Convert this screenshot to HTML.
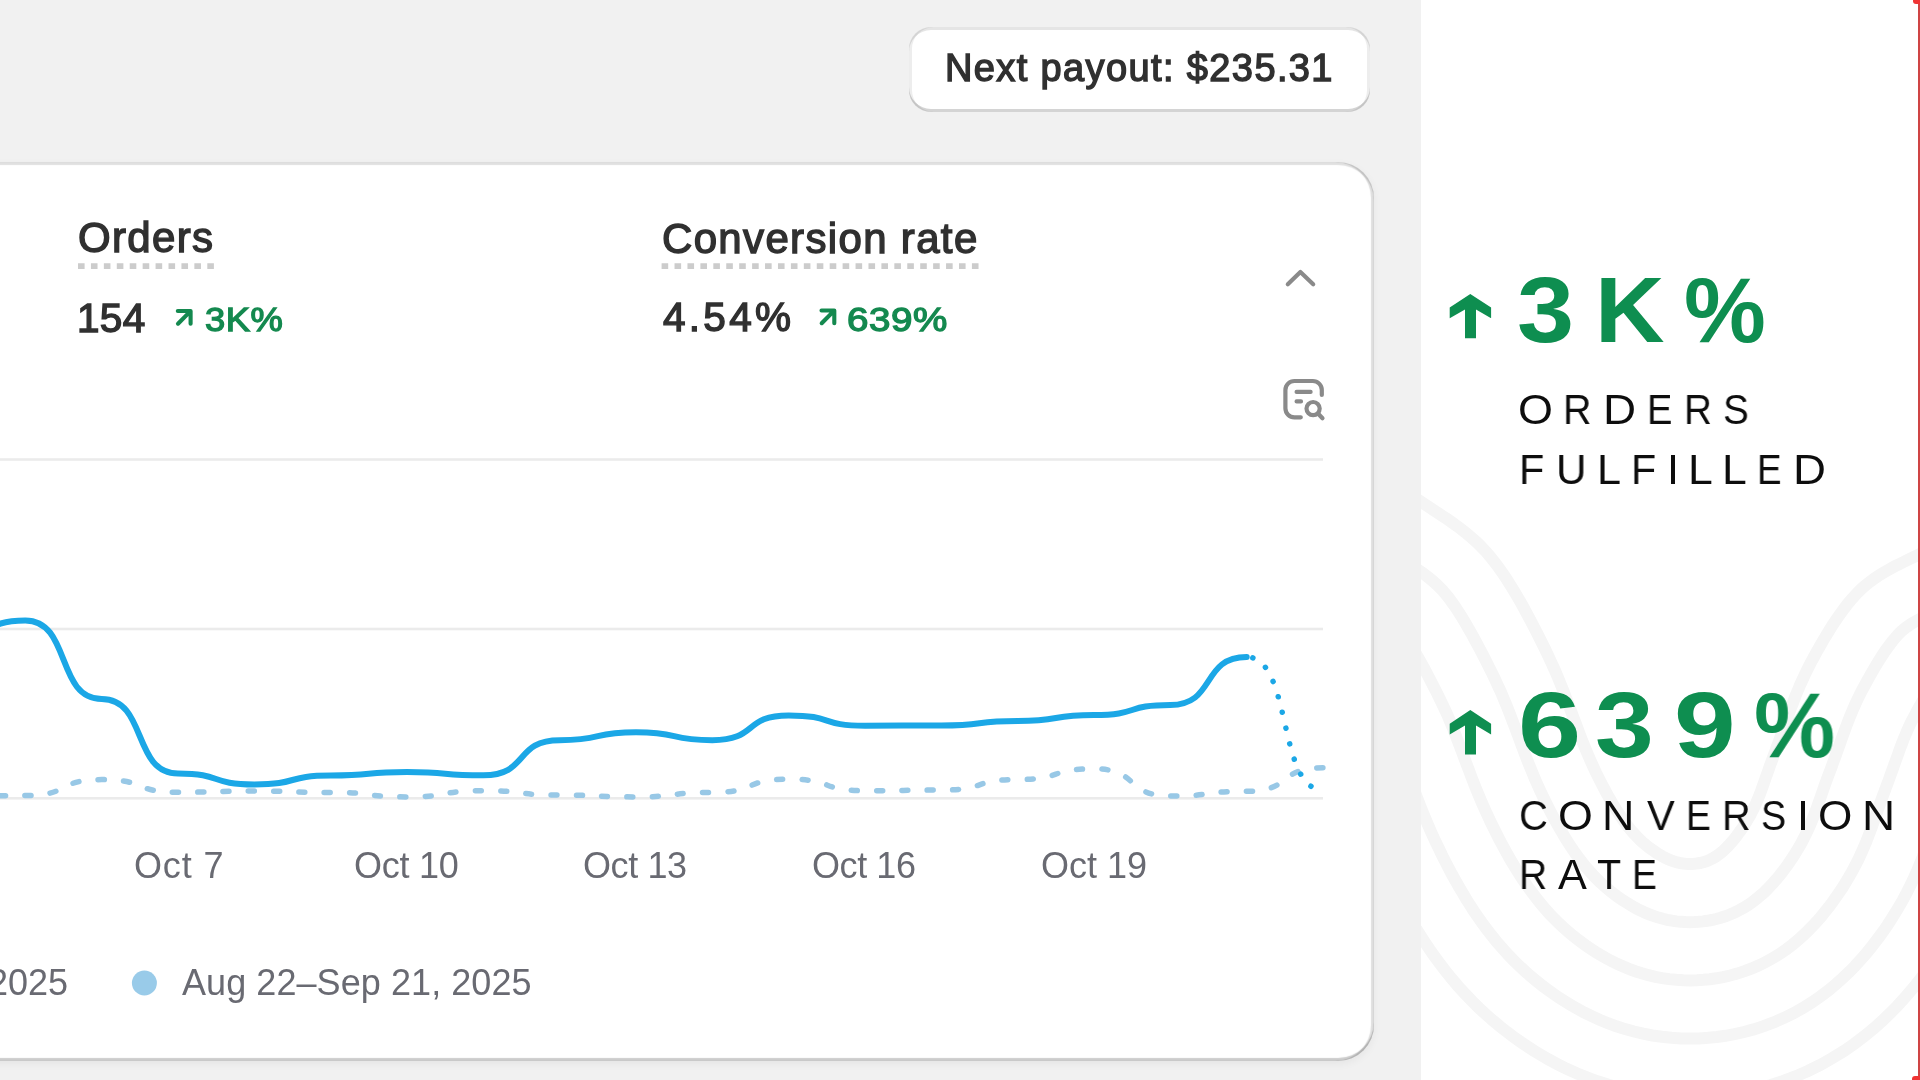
<!DOCTYPE html>
<html>
<head>
<meta charset="utf-8">
<style>
html,body{margin:0;padding:0;}
body{width:1920px;height:1080px;overflow:hidden;position:relative;background:#f1f1f1;font-family:"Liberation Sans",sans-serif;}
.abs{position:absolute;white-space:pre;line-height:1;will-change:transform;}
#left{position:absolute;left:0;top:0;width:1421px;height:1080px;background:#f1f1f1;overflow:hidden;}
#pill{position:absolute;left:909px;top:27px;width:461px;height:85px;box-sizing:border-box;background:#fff;border-radius:22px;
  box-shadow:inset 0 -3px 0 rgba(0,0,0,.17), inset 3px 0 0 rgba(0,0,0,.07), inset -3px 0 0 rgba(0,0,0,.07), inset 0 3px 0 rgba(204,204,204,.5);}
#card{position:absolute;left:-100px;top:161.5px;width:1473.5px;height:899.5px;box-sizing:border-box;background:#fff;border-radius:36px;
  box-shadow:0 3px 8px rgba(0,0,0,.05), inset 0 -3px 1px rgba(0,0,0,.2), inset -3px 0 1px rgba(0,0,0,.13), inset 0 3px 1px rgba(204,204,204,.6);}
.dark{color:#303030;}
.semi{font-weight:400 !important;-webkit-text-stroke:1.4px currentColor;}
.gray{color:#696a72;}
.green{color:#14894f;}
#right{position:absolute;left:1421px;top:0;width:499px;height:1080px;background:#fff;overflow:hidden;}
.big{will-change:transform;position:absolute;white-space:pre;line-height:1;font-weight:700;color:#0e8e50;font-size:92px;}
.lab{will-change:transform;position:absolute;white-space:pre;line-height:1;font-weight:400;color:#0d0d0d;font-size:43px;transform-origin:0 0;}
</style>
</head>
<body>
<div id="left">
  <div id="pill"></div>
  <div id="card"></div>
  <div class="abs dark" style="left:944.7px;top:49.0px;font-size:38px;letter-spacing:1.38px;-webkit-text-stroke:1.4px currentColor;">Next payout: $235.31</div>
  <div class="abs dark" style="left:78.2px;top:217.4px;font-size:42px;letter-spacing:1.32px;-webkit-text-stroke:1.4px currentColor;">Orders</div>
  <div class="abs dark" style="left:661.9px;top:217.9px;font-size:42px;letter-spacing:1.34px;-webkit-text-stroke:1.4px currentColor;">Conversion rate</div>
  <div class="abs dark" style="left:77.4px;top:297.7px;font-size:40.5px;letter-spacing:0.3px;-webkit-text-stroke:1.4px currentColor;">154</div>
  <div class="abs dark" style="left:662.9px;top:297.2px;font-size:40.5px;letter-spacing:3.28px;-webkit-text-stroke:1.4px currentColor;">4.54%</div>
  <div class="abs green" style="left:204.7px;top:303.4px;font-size:33.5px;letter-spacing:0.5px;-webkit-text-stroke:1.3px currentColor;transform:scaleX(1.085);transform-origin:0 0;">3K%</div>
  <div class="abs green" style="left:847.2px;top:302.5px;font-size:33.5px;letter-spacing:0.5px;-webkit-text-stroke:1.3px currentColor;transform:scaleX(1.15);transform-origin:0 0;">639%</div>
  <div class="abs gray" style="left:133.9px;top:848.0px;font-size:36px;letter-spacing:0.85px;">Oct 7</div>
  <div class="abs gray" style="left:353.9px;top:848.0px;font-size:36px;letter-spacing:-0.28px;">Oct 10</div>
  <div class="abs gray" style="left:583.0px;top:848.0px;font-size:36px;letter-spacing:-0.4px;">Oct 13</div>
  <div class="abs gray" style="left:812.4px;top:848.0px;font-size:36px;letter-spacing:-0.42px;">Oct 16</div>
  <div class="abs gray" style="left:1040.5px;top:848.0px;font-size:36px;letter-spacing:-0.02px;">Oct 19</div>
  <div class="abs gray" style="left:-12.4px;top:965.4px;font-size:36px;letter-spacing:0px;">2025</div>
  <div class="abs gray" style="left:182.3px;top:965.4px;font-size:36px;letter-spacing:0.07px;">Aug 22–Sep 21, 2025</div>
  <svg id="chart" width="1421" height="1080" style="position:absolute;left:0;top:0">
    <!-- CHART -->
    <rect x="0" y="458.2" width="1323" height="2.6" fill="#ebebeb"/>
    <rect x="0" y="627.7" width="1323" height="2.6" fill="#ebebeb"/>
    <rect x="0" y="797.0" width="1323" height="2.6" fill="#ebebeb"/>
    <path d="M-51.0 796.0 C-5.2 796.0 -20.5 795.6 25.3 795.6 C71.1 795.6 55.9 779.6 101.7 779.6 C147.5 779.6 132.2 792.2 178.0 792.2 C223.8 792.2 208.5 791.1 254.3 791.1 C300.1 791.1 284.9 792.4 330.7 792.4 C376.5 792.4 361.2 796.9 407.0 796.9 C452.8 796.9 437.5 790.7 483.3 790.7 C529.1 790.7 513.9 795.1 559.7 795.1 C605.5 795.1 590.2 796.9 636.0 796.9 C681.8 796.9 666.5 792.4 712.3 792.4 C758.1 792.4 742.9 779.2 788.7 779.2 C834.5 779.2 819.2 790.7 865.0 790.7 C910.8 790.7 895.5 790.1 941.3 790.1 C987.1 790.1 971.9 779.5 1017.7 779.5 C1063.5 779.5 1048.2 768.8 1094.0 768.8 C1139.8 768.8 1124.5 796.0 1170.3 796.0 C1216.1 796.0 1200.9 791.3 1246.7 791.3 C1292.5 791.3 1277.2 767.8 1323.0 767.8" fill="none" stroke="#98c8e6" stroke-width="5.5" stroke-linecap="round" stroke-dasharray="6 19.3"/>
    <path d="M-51.0 641.0 C-5.2 641.0 -20.5 620.4 25.3 620.4 C71.1 620.4 55.9 699.0 101.7 699.0 C147.5 699.0 132.2 773.5 178.0 773.5 C223.8 773.5 208.5 784.4 254.3 784.4 C300.1 784.4 284.9 775.6 330.7 775.6 C376.5 775.6 361.2 772.1 407.0 772.1 C452.8 772.1 437.5 775.3 483.3 775.3 C529.1 775.3 513.9 740.2 559.7 740.2 C605.5 740.2 590.2 732.2 636.0 732.2 C681.8 732.2 666.5 740.2 712.3 740.2 C758.1 740.2 742.9 715.4 788.7 715.4 C834.5 715.4 819.2 725.7 865.0 725.7 C910.8 725.7 895.5 725.5 941.3 725.5 C987.1 725.5 971.9 721.0 1017.7 721.0 C1063.5 721.0 1048.2 715.0 1094.0 715.0 C1139.8 715.0 1124.5 705.0 1170.3 705.0 C1216.1 705.0 1200.9 657.0 1246.7 657.0" fill="none" stroke="#1ba7e6" stroke-width="6" stroke-linecap="round"/>
    <path d="M1246.7 657.0 C1292.5 657.0 1277.2 790.0 1323.0 790.0" fill="none" stroke="#1ba7e6" stroke-width="5.5" stroke-linecap="round" stroke-dasharray="0.1 16" stroke-dashoffset="10"/>
    <circle cx="144.4" cy="983" r="12.5" fill="#99cbe9"/>
    <path d="M1287.8 284.3 L1300.4 272 L1313.2 284.3" fill="none" stroke="#8a8a8a" stroke-width="4.2" stroke-linecap="round" stroke-linejoin="round"/>
    <path d="M1300.8 417.3 L1294.4 417.3 A9 9 0 0 1 1285.4 408.3 L1285.4 390 A9 9 0 0 1 1294.4 381 L1312.8 381 A9 9 0 0 1 1321.8 390 L1321.8 395" fill="none" stroke="#8a8a8a" stroke-width="4.2" stroke-linecap="round"/>
    <path d="M1296.6 391.9 L1310.6 391.9 M1296.6 401.4 L1301 401.4" fill="none" stroke="#8a8a8a" stroke-width="4.2" stroke-linecap="round"/>
    <circle cx="1313.1" cy="408.6" r="6.6" fill="none" stroke="#8a8a8a" stroke-width="4.2"/>
    <path d="M1318.2 413.7 L1322.5 418.3" fill="none" stroke="#8a8a8a" stroke-width="4.2" stroke-linecap="round"/>
    <path d="M177.8 311 L190.6 311 L190.6 323.7 M190 311.6 L178 323.7" fill="none" stroke="#14894f" stroke-width="4.1" stroke-linecap="round" stroke-linejoin="round"/>
    <path d="M821.5 310.5 L834.3 310.5 L834.3 323.2 M833.7 311.1 L821.7 323.2" fill="none" stroke="#14894f" stroke-width="4.1" stroke-linecap="round" stroke-linejoin="round"/>
    <line x1="78" y1="266.1" x2="214.5" y2="266.1" stroke="#cccccc" stroke-width="5.8" stroke-dasharray="6.6 6.33"/>
    <line x1="661.6" y1="266.1" x2="979" y2="266.1" stroke="#cccccc" stroke-width="5.8" stroke-dasharray="6.6 6.33"/>
    <!-- /CHART -->
  </svg>
</div>
<div id="right">
  <svg id="curves" width="499" height="1080" style="position:absolute;left:0;top:0">
    <!-- CURVES -->
    <path d="M-49.9 472.6 L-48.6 473.3 L-46.7 474.3 L-44.3 475.6 L-41.6 477.1 L-38.6 478.7 L-35.4 480.4 L-32.0 482.2 L-28.4 484.2 L-24.7 486.2 L-20.9 488.4 L-17.0 490.7 L-13.1 493.2 L-9.0 495.7 L-5.0 498.3 L-0.9 501.1 L3.3 503.9 L7.6 506.7 L12.0 509.7 L16.6 512.7 L21.4 515.9 L26.2 519.1 L31.1 522.5 L36.0 526.0 L40.9 529.7 L45.8 533.6 L50.6 537.7 L55.4 542.0 L60.0 546.5 L64.5 551.2 L68.9 556.3 L73.2 561.6 L77.4 567.2 L81.6 573.1 L85.7 579.2 L89.7 585.6 L93.7 592.2 L97.7 598.9 L101.6 605.8 L105.4 612.8 L109.2 619.8 L112.9 626.9 L116.5 634.0 L120.0 641.0 L123.5 648.0 L126.9 655.1 L130.2 662.2 L133.5 669.4 L136.6 676.7 L139.7 684.2 L142.7 691.8 L145.6 699.4 L148.5 707.0 L151.3 714.5 L154.1 721.9 L156.8 729.2 L159.5 736.3 L162.1 743.1 L164.8 749.6 L167.4 755.8 L170.0 761.7 L172.5 767.3 L175.0 772.6 L177.5 777.6 L179.9 782.4 L182.3 787.0 L184.6 791.4 L186.9 795.6 L189.2 799.6 L191.4 803.5 L193.7 807.2 L195.9 810.8 L198.2 814.2 L200.5 817.5 L202.7 820.8 L205.0 823.9 L207.3 826.9 L209.6 829.7 L211.9 832.4 L214.2 834.9 L216.5 837.3 L218.8 839.6 L221.0 841.7 L223.3 843.7 L225.6 845.6 L227.8 847.4 L230.1 849.0 L232.3 850.6 L234.6 852.1 L236.8 853.6 L239.0 854.9 L241.2 856.2 L243.4 857.4 L245.6 858.5 L247.7 859.4 L249.9 860.3 L252.0 861.1 L254.2 861.8 L256.3 862.4 L258.4 862.9 L260.5 863.3 L262.7 863.6 L264.8 863.8 L266.8 863.9 L268.9 864.0 L271.0 863.9 L273.0 863.8 L275.1 863.6 L277.1 863.3 L279.1 863.0 L281.1 862.5 L283.1 862.0 L285.1 861.3 L287.1 860.6 L289.1 859.7 L291.1 858.7 L293.1 857.6 L295.0 856.4 L297.0 855.0 L299.0 853.5 L301.0 851.9 L303.0 850.1 L305.1 848.1 L307.1 846.0 L309.2 843.8 L311.3 841.4 L313.3 838.9 L315.4 836.3 L317.4 833.5 L319.5 830.7 L321.5 827.8 L323.5 824.8 L325.4 821.7 L327.3 818.5 L329.2 815.3 L330.9 811.9 L332.6 808.6 L334.3 805.1 L335.8 801.6 L337.3 798.0 L338.8 794.3 L340.2 790.5 L341.6 786.6 L343.0 782.7 L344.4 778.6 L345.9 774.4 L347.4 770.2 L348.9 765.8 L350.6 761.3 L352.3 756.6 L354.1 751.9 L355.9 746.9 L357.8 741.8 L359.7 736.5 L361.7 731.0 L363.7 725.4 L365.7 719.7 L367.8 713.9 L369.9 708.0 L372.2 702.2 L374.4 696.3 L376.8 690.5 L379.2 684.7 L381.8 679.1 L384.4 673.5 L387.1 668.0 L389.9 662.6 L392.8 657.1 L395.8 651.7 L398.9 646.2 L402.0 640.7 L405.3 635.3 L408.6 629.9 L411.9 624.6 L415.4 619.4 L418.9 614.4 L422.4 609.5 L426.0 604.8 L429.6 600.4 L433.3 596.2 L437.1 592.2 L440.9 588.5 L444.8 585.1 L448.8 581.9 L452.9 578.9 L457.1 576.0 L461.3 573.4 L465.6 570.9 L469.8 568.5 L474.1 566.2 L478.4 564.1 L482.6 562.0 L486.8 559.9 L490.9 557.9 L495.0 556.0 L499.0 554.0 L503.1 552.1 L507.2 550.2 L511.4 548.4 L515.6 546.7 L519.9 545.0 L524.1 543.4 L528.2 541.9 L532.3 540.5 L536.1 539.1 L539.8 537.9 L543.2 536.7 L546.4 535.7 L549.2 534.7 L551.3 534.0 L552.8 533.4" fill="none" stroke="#f5f5f5" stroke-width="12"/>
    <path d="M-77.9 523.6 L-76.4 524.5 L-74.3 525.6 L-71.6 527.0 L-68.8 528.5 L-65.9 530.0 L-62.9 531.6 L-59.8 533.3 L-56.7 535.0 L-53.5 536.8 L-50.2 538.7 L-47.0 540.6 L-43.8 542.6 L-40.6 544.6 L-37.1 546.9 L-33.3 549.4 L-29.1 552.2 L-24.7 555.2 L-20.0 558.3 L-15.4 561.3 L-11.0 564.3 L-6.7 567.2 L-2.5 570.1 L1.5 572.9 L5.3 575.8 L9.0 578.7 L12.4 581.6 L15.6 584.5 L18.6 587.4 L21.5 590.4 L24.3 593.7 L27.3 597.3 L30.3 601.4 L33.6 606.0 L36.9 611.0 L40.3 616.3 L43.8 622.0 L47.2 628.0 L50.7 634.1 L54.2 640.5 L57.7 647.0 L61.2 653.6 L64.6 660.3 L68.0 667.1 L71.3 673.6 L74.4 680.1 L77.3 686.4 L80.2 692.7 L82.9 699.2 L85.7 705.9 L88.5 712.9 L91.2 720.1 L94.0 727.4 L96.8 734.8 L99.5 742.3 L102.3 749.7 L105.1 757.2 L108.0 764.5 L111.0 771.8 L113.9 778.9 L116.9 785.6 L119.8 791.9 L122.6 797.9 L125.3 803.4 L128.0 808.8 L130.7 814.0 L133.4 819.0 L136.1 823.9 L138.7 828.6 L141.5 833.3 L144.2 837.8 L146.9 842.1 L149.7 846.4 L152.5 850.6 L155.4 854.7 L158.4 858.8 L161.6 862.9 L164.8 866.9 L168.2 870.8 L171.6 874.6 L175.1 878.2 L178.5 881.6 L182.0 884.9 L185.5 887.9 L189.0 890.8 L192.4 893.5 L195.8 896.1 L199.2 898.5 L202.5 900.7 L205.8 902.8 L209.2 904.9 L212.8 907.0 L216.6 909.1 L220.6 911.0 L224.7 912.9 L228.9 914.6 L233.1 916.2 L237.5 917.6 L241.9 918.8 L246.3 919.8 L250.9 920.7 L255.4 921.4 L260.0 921.8 L264.6 922.1 L269.1 922.2 L273.4 922.1 L277.7 921.8 L282.0 921.4 L286.2 920.8 L290.6 920.0 L295.1 919.0 L299.7 917.8 L304.3 916.3 L308.9 914.5 L313.6 912.5 L318.1 910.3 L322.6 907.8 L326.9 905.1 L331.2 902.2 L335.2 899.1 L339.0 895.9 L342.7 892.7 L346.1 889.4 L349.4 886.0 L352.5 882.6 L355.6 879.1 L358.6 875.5 L361.5 871.8 L364.3 868.0 L367.1 864.2 L369.8 860.2 L372.5 856.2 L375.0 852.1 L377.6 847.8 L380.1 843.5 L382.5 838.9 L384.9 834.2 L387.2 829.3 L389.3 824.5 L391.3 819.8 L393.1 815.2 L394.8 810.7 L396.4 806.3 L397.9 801.9 L399.4 797.7 L400.9 793.5 L402.3 789.4 L403.7 785.3 L405.2 781.2 L406.8 776.9 L408.6 772.2 L410.5 767.2 L412.4 761.8 L414.5 756.2 L416.5 750.5 L418.5 744.9 L420.5 739.3 L422.5 733.8 L424.5 728.3 L426.5 723.0 L428.5 717.8 L430.6 712.7 L432.6 707.9 L434.7 703.3 L436.8 698.8 L439.0 694.3 L441.4 689.6 L444.0 684.8 L446.7 679.9 L449.5 674.9 L452.3 670.1 L455.1 665.3 L457.9 660.7 L460.7 656.3 L463.5 652.0 L466.3 648.1 L469.0 644.4 L471.6 641.0 L474.1 638.0 L476.3 635.4 L478.4 633.2 L480.3 631.3 L482.3 629.6 L484.3 628.0 L486.5 626.4 L488.9 624.8 L491.5 623.1 L494.4 621.4 L497.5 619.7 L500.9 617.9 L504.4 616.1 L508.2 614.2 L512.2 612.3 L516.3 610.3 L520.4 608.3 L524.1 606.5 L527.6 604.9 L530.8 603.4 L533.9 602.1 L537.3 600.7 L540.7 599.3 L544.3 598.0 L547.9 596.7 L551.5 595.4 L555.1 594.2 L558.5 593.0 L561.9 591.9 L565.1 590.8 L568.2 589.7 L570.5 588.9 L572.2 588.3" fill="none" stroke="#f5f5f5" stroke-width="12"/>
    <path d="M-105.9 574.7 L-104.2 575.6 L-101.9 576.8 L-99.0 578.4 L-96.1 579.9 L-93.2 581.4 L-90.5 582.9 L-87.7 584.4 L-84.9 585.9 L-82.2 587.5 L-79.5 589.0 L-77.0 590.5 L-74.5 592.0 L-72.1 593.6 L-69.2 595.4 L-65.7 597.8 L-61.6 600.5 L-56.9 603.7 L-52.0 606.9 L-47.5 609.9 L-43.3 612.6 L-39.5 615.2 L-36.0 617.6 L-33.0 619.8 L-30.2 621.9 L-27.8 623.8 L-25.8 625.5 L-24.1 627.0 L-22.8 628.3 L-21.6 629.6 L-20.2 631.1 L-18.7 633.0 L-16.8 635.6 L-14.4 638.9 L-11.9 642.7 L-9.1 647.1 L-6.2 651.8 L-3.2 657.0 L-0.1 662.5 L3.1 668.2 L6.3 674.2 L9.5 680.4 L12.7 686.7 L16.0 693.1 L19.0 699.3 L21.8 705.1 L24.4 710.6 L26.9 716.1 L29.2 721.6 L31.7 727.6 L34.2 734.1 L36.8 740.8 L39.5 747.9 L42.2 755.1 L45.0 762.6 L47.9 770.2 L50.8 778.0 L53.9 785.9 L57.2 794.0 L60.5 801.9 L63.8 809.4 L67.1 816.6 L70.2 823.1 L73.2 829.2 L76.2 835.2 L79.1 841.0 L82.2 846.6 L85.2 852.2 L88.3 857.7 L91.5 863.1 L94.7 868.3 L97.9 873.5 L101.2 878.6 L104.6 883.6 L108.1 888.6 L111.9 893.7 L115.8 898.9 L120.1 904.1 L124.5 909.3 L129.0 914.3 L133.6 919.1 L138.3 923.7 L143.0 928.1 L147.7 932.2 L152.4 936.1 L157.0 939.7 L161.6 943.1 L166.0 946.3 L170.3 949.2 L174.8 952.1 L179.4 954.9 L184.4 957.8 L189.8 960.7 L195.6 963.6 L201.7 966.3 L207.9 968.9 L214.2 971.2 L220.8 973.3 L227.5 975.2 L234.3 976.8 L241.2 978.1 L248.2 979.1 L255.3 979.8 L262.3 980.3 L269.2 980.4 L275.9 980.2 L282.4 979.8 L288.8 979.2 L295.3 978.3 L302.1 977.1 L309.0 975.5 L316.2 973.6 L323.5 971.2 L330.8 968.5 L338.0 965.3 L345.2 961.8 L352.1 957.9 L358.9 953.8 L365.3 949.3 L371.4 944.7 L377.1 940.0 L382.3 935.3 L387.1 930.6 L391.6 926.0 L395.9 921.4 L400.0 916.8 L403.8 912.1 L407.6 907.3 L411.2 902.5 L414.7 897.6 L418.1 892.6 L421.5 887.6 L424.7 882.5 L427.8 877.2 L431.0 871.7 L434.1 865.8 L437.2 859.8 L440.1 853.6 L442.8 847.4 L445.3 841.6 L447.4 836.0 L449.4 830.8 L451.2 825.9 L452.9 821.2 L454.4 816.8 L455.8 812.6 L457.2 808.7 L458.6 804.9 L459.9 801.2 L461.4 797.2 L463.1 792.6 L465.0 787.4 L467.1 781.8 L469.2 775.9 L471.3 770.1 L473.3 764.4 L475.3 759.0 L477.2 753.7 L479.0 748.6 L480.9 743.8 L482.6 739.2 L484.4 735.0 L486.0 731.1 L487.6 727.6 L489.2 724.1 L491.0 720.5 L493.0 716.7 L495.2 712.5 L497.6 708.0 L500.1 703.7 L502.5 699.5 L504.9 695.4 L507.3 691.6 L509.6 688.0 L511.7 684.7 L513.8 681.8 L515.6 679.2 L517.2 677.1 L518.5 675.5 L519.4 674.6 L519.7 674.2 L519.8 674.1 L519.7 674.2 L519.7 674.2 L520.0 674.0 L520.7 673.5 L521.8 672.8 L523.3 671.9 L525.2 670.9 L527.6 669.6 L530.5 668.2 L533.8 666.5 L537.6 664.7 L541.8 662.7 L545.7 660.7 L549.2 659.1 L552.1 657.7 L554.4 656.6 L556.5 655.7 L558.9 654.7 L561.6 653.7 L564.6 652.6 L567.6 651.5 L570.8 650.3 L574.0 649.2 L577.3 648.1 L580.6 647.0 L583.9 645.9 L587.2 644.7 L589.7 643.8 L591.6 643.2" fill="none" stroke="#f5f5f5" stroke-width="12"/>
    <path d="M-133.8 625.7 L-131.9 626.8 L-129.5 628.1 L-126.3 629.8 L-123.3 631.4 L-120.6 632.8 L-118.0 634.2 L-115.5 635.5 L-113.2 636.8 L-110.9 638.1 L-108.9 639.3 L-106.9 640.4 L-105.2 641.5 L-103.6 642.5 L-101.3 644.0 L-98.1 646.1 L-94.0 648.9 L-89.1 652.1 L-84.1 655.5 L-79.5 658.5 L-75.7 661.0 L-72.3 663.3 L-69.6 665.2 L-67.4 666.7 L-65.8 668.0 L-64.6 668.9 L-64.0 669.4 L-63.9 669.5 L-64.1 669.2 L-64.6 668.8 L-64.8 668.5 L-64.6 668.8 L-63.8 669.8 L-62.4 671.8 L-60.6 674.5 L-58.5 677.8 L-56.2 681.7 L-53.6 686.0 L-50.9 690.8 L-48.1 695.9 L-45.2 701.4 L-42.2 707.1 L-39.2 713.1 L-36.1 719.2 L-33.2 724.9 L-30.7 730.1 L-28.5 734.9 L-26.5 739.4 L-24.5 744.1 L-22.3 749.4 L-20.0 755.2 L-17.5 761.5 L-15.0 768.3 L-12.3 775.5 L-9.5 782.9 L-6.6 790.8 L-3.5 798.9 L-0.2 807.4 L3.3 816.2 L7.0 824.9 L10.7 833.3 L14.3 841.2 L17.8 848.4 L21.0 855.1 L24.3 861.6 L27.6 868.0 L30.9 874.3 L34.4 880.5 L37.9 886.7 L41.5 892.8 L45.1 898.9 L48.9 904.9 L52.7 910.8 L56.7 916.6 L60.8 922.5 L65.3 928.6 L70.1 934.9 L75.3 941.3 L80.8 947.7 L86.4 954.0 L92.2 960.0 L98.1 965.7 L104.0 971.2 L109.9 976.4 L115.8 981.3 L121.6 985.9 L127.3 990.2 L132.9 994.1 L138.2 997.8 L143.7 1001.3 L149.6 1004.9 L156.0 1008.6 L163.0 1012.4 L170.7 1016.2 L178.6 1019.8 L186.9 1023.2 L195.4 1026.3 L204.1 1029.1 L213.0 1031.5 L222.2 1033.7 L231.5 1035.5 L240.9 1036.8 L250.5 1037.8 L260.1 1038.4 L269.4 1038.6 L278.4 1038.4 L287.1 1037.8 L295.7 1037.0 L304.4 1035.8 L313.5 1034.1 L323.0 1032.0 L332.7 1029.4 L342.7 1026.2 L352.6 1022.4 L362.5 1018.1 L372.2 1013.4 L381.7 1008.1 L390.8 1002.4 L399.5 996.4 L407.6 990.3 L415.1 984.0 L421.9 977.9 L428.2 971.9 L433.9 966.1 L439.2 960.2 L444.3 954.5 L449.1 948.7 L453.7 942.8 L458.1 937.0 L462.4 931.1 L466.5 925.1 L470.4 919.0 L474.3 912.8 L478.1 906.5 L481.9 899.9 L485.7 892.8 L489.4 885.4 L493.0 877.8 L496.3 870.4 L499.2 863.4 L501.8 856.9 L504.0 850.9 L506.0 845.5 L507.8 840.5 L509.4 835.9 L510.8 831.8 L512.1 828.0 L513.4 824.5 L514.5 821.2 L515.9 817.5 L517.6 812.9 L519.6 807.7 L521.8 801.8 L524.0 795.6 L526.1 789.6 L528.2 784.0 L530.1 778.6 L531.9 773.6 L533.6 768.9 L535.2 764.6 L536.7 760.7 L538.1 757.2 L539.4 754.3 L540.5 751.8 L541.6 749.4 L542.9 746.8 L544.5 743.7 L546.4 740.2 L548.5 736.2 L550.7 732.4 L552.7 728.8 L554.7 725.5 L556.6 722.4 L558.4 719.7 L559.9 717.3 L561.2 715.5 L562.2 714.1 L562.8 713.3 L563.0 713.1 L562.4 713.8 L561.1 715.1 L559.3 716.9 L557.1 718.8 L555.1 720.4 L553.6 721.5 L552.5 722.2 L552.0 722.6 L552.1 722.5 L552.9 722.1 L554.4 721.3 L556.5 720.2 L559.4 718.8 L562.9 717.1 L567.2 715.0 L571.1 713.1 L574.2 711.6 L576.5 710.5 L578.0 709.8 L579.1 709.4 L580.6 708.8 L582.5 708.0 L584.8 707.1 L587.3 706.2 L590.1 705.2 L593.0 704.2 L596.0 703.2 L599.2 702.1 L602.7 700.9 L606.2 699.7 L608.9 698.8 L611.0 698.0" fill="none" stroke="#f5f5f5" stroke-width="12"/>
    <path d="M-161.8 676.8 L-159.7 677.9 L-157.1 679.3 L-153.7 681.1 L-150.6 682.8 L-147.9 684.2 L-145.5 685.5 L-143.3 686.7 L-141.4 687.7 L-139.7 688.7 L-138.2 689.6 L-136.9 690.3 L-135.9 690.9 L-135.1 691.4 L-133.4 692.5 L-130.5 694.5 L-126.4 697.2 L-121.4 700.6 L-116.1 704.1 L-111.6 707.0 L-108.0 709.4 L-105.2 711.3 L-103.2 712.7 L-101.9 713.6 L-101.3 714.1 L-101.4 714.0 L-102.2 713.3 L-103.6 712.0 L-105.5 710.2 L-107.6 708.0 L-109.4 705.9 L-110.6 704.5 L-110.9 704.0 L-110.4 704.7 L-109.4 706.2 L-108.0 708.5 L-106.2 711.5 L-104.1 715.0 L-101.8 719.1 L-99.3 723.6 L-96.7 728.6 L-93.9 733.9 L-91.0 739.4 L-88.1 745.2 L-85.5 750.5 L-83.3 755.1 L-81.4 759.1 L-79.8 762.8 L-78.1 766.6 L-76.3 771.1 L-74.2 776.4 L-71.9 782.3 L-69.5 788.8 L-66.9 795.8 L-64.1 803.3 L-61.1 811.3 L-57.8 819.8 L-54.3 828.8 L-50.5 838.3 L-46.4 847.9 L-42.4 857.2 L-38.4 865.9 L-34.6 873.7 L-31.1 880.9 L-27.6 888.0 L-24.0 895.0 L-20.3 901.9 L-16.5 908.9 L-12.6 915.8 L-8.5 922.6 L-4.4 929.5 L-0.1 936.3 L4.3 943.0 L8.8 949.7 L13.6 956.5 L18.7 963.5 L24.4 970.9 L30.5 978.5 L37.1 986.2 L43.9 993.6 L50.8 1000.9 L57.8 1007.8 L64.9 1014.4 L72.1 1020.7 L79.2 1026.6 L86.2 1032.1 L93.0 1037.2 L99.7 1042.0 L106.1 1046.3 L112.7 1050.6 L119.8 1054.9 L127.6 1059.4 L136.3 1064.1 L145.7 1068.8 L155.6 1073.3 L165.9 1077.4 L176.5 1081.3 L187.4 1084.8 L198.6 1087.9 L210.1 1090.6 L221.8 1092.8 L233.7 1094.6 L245.7 1095.8 L257.8 1096.6 L269.6 1096.8 L280.8 1096.5 L291.8 1095.9 L302.6 1094.8 L313.5 1093.3 L325.0 1091.2 L337.0 1088.5 L349.3 1085.2 L361.8 1081.1 L374.4 1076.4 L387.0 1071.0 L399.3 1064.9 L411.2 1058.2 L422.7 1051.1 L433.6 1043.6 L443.8 1035.8 L453.1 1028.1 L461.6 1020.5 L469.2 1013.2 L476.2 1006.1 L482.6 999.1 L488.6 992.1 L494.4 985.3 L499.8 978.4 L505.0 971.5 L510.0 964.5 L514.8 957.5 L519.4 950.4 L523.9 943.2 L528.3 935.9 L532.8 928.1 L537.3 919.7 L541.7 911.0 L545.9 902.0 L549.8 893.3 L553.2 885.2 L556.1 877.8 L558.6 871.1 L560.8 865.1 L562.7 859.7 L564.3 855.0 L565.8 850.9 L567.0 847.2 L568.2 844.1 L569.2 841.2 L570.5 837.8 L572.1 833.3 L574.1 828.0 L576.4 821.8 L578.8 815.3 L581.0 809.1 L583.0 803.5 L584.8 798.3 L586.6 793.5 L588.1 789.2 L589.6 785.4 L590.8 782.1 L591.9 779.5 L592.8 777.4 L593.4 776.1 L594.0 774.7 L594.9 773.0 L596.0 770.8 L597.6 767.8 L599.5 764.4 L601.3 761.2 L603.0 758.2 L604.6 755.6 L606.0 753.3 L607.2 751.4 L608.1 750.0 L608.7 749.2 L608.8 748.9 L608.5 749.4 L607.4 750.7 L605.4 753.0 L602.4 756.1 L598.7 759.7 L594.6 763.3 L590.6 766.5 L587.1 769.1 L584.3 771.0 L582.3 772.3 L581.0 773.0 L580.6 773.2 L581.1 773.0 L582.6 772.3 L584.9 771.1 L588.3 769.4 L592.6 767.4 L596.5 765.5 L599.3 764.1 L601.0 763.3 L601.6 763.0 L601.6 763.0 L602.2 762.8 L603.4 762.3 L605.0 761.7 L607.0 761.0 L609.3 760.2 L611.9 759.3 L614.8 758.3 L617.9 757.2 L621.4 756.0 L625.2 754.7 L628.1 753.7 L630.4 752.9" fill="none" stroke="#f5f5f5" stroke-width="12"/>
    <!-- /CURVES -->
  </svg>
  <!-- STATS -->
  <svg width="499" height="1080" style="position:absolute;left:0;top:0">
    <path d="M49.3 293.9 L70.1 307.5 L70.1 318.3 L55.0 309.4 L55.0 338.3 L44.0 338.3 L44.0 309.4 L28.7 318.3 L28.7 307.5 Z" fill="#0e8e50"/>
    <path d="M49.3 710.1 L70.1 723.7 L70.1 734.5 L55.0 725.6 L55.0 754.5 L44.0 754.5 L44.0 725.6 L28.7 734.5 L28.7 723.7 Z" fill="#0e8e50"/>
  </svg>
  <div class="big" style="left:95.9px;top:264px;transform:scaleX(1.115);transform-origin:0 0;">3</div>
  <div class="big" style="left:174.3px;top:264px;transform:scaleX(1.047);transform-origin:0 0;">K</div>
  <div class="big" style="left:263.0px;top:264px;transform:scaleX(0.997);transform-origin:0 0;">%</div>
  <div class="big" style="left:97.2px;top:679px;transform:scaleX(1.233);transform-origin:0 0;">6</div>
  <div class="big" style="left:174.4px;top:679px;transform:scaleX(1.148);transform-origin:0 0;">3</div>
  <div class="big" style="left:253.0px;top:679px;transform:scaleX(1.204);transform-origin:0 0;">9</div>
  <div class="big" style="left:333.2px;top:679px;transform:scaleX(0.992);transform-origin:0 0;">%</div>
  <div class="lab" style="left:97.2px;top:388.0px;transform:scaleX(1.045);">O</div>
  <div class="lab" style="left:142.4px;top:388.0px;transform:scaleX(0.915);">R</div>
  <div class="lab" style="left:181.6px;top:388.0px;transform:scaleX(1.065);">D</div>
  <div class="lab" style="left:225.9px;top:388.0px;transform:scaleX(0.883);">E</div>
  <div class="lab" style="left:262.9px;top:388.0px;transform:scaleX(0.900);">R</div>
  <div class="lab" style="left:301.8px;top:388.0px;transform:scaleX(0.900);">S</div>
  <div class="lab" style="left:98.1px;top:447.6px;transform:scaleX(0.962);">F</div>
  <div class="lab" style="left:134.5px;top:447.6px;transform:scaleX(0.984);">U</div>
  <div class="lab" style="left:176.3px;top:447.6px;transform:scaleX(1.005);">L</div>
  <div class="lab" style="left:209.8px;top:447.6px;transform:scaleX(0.957);">F</div>
  <div class="lab" style="left:245.6px;top:447.6px;transform:scaleX(1.000);">I</div>
  <div class="lab" style="left:267.1px;top:447.6px;transform:scaleX(1.037);">L</div>
  <div class="lab" style="left:300.8px;top:447.6px;transform:scaleX(1.037);">L</div>
  <div class="lab" style="left:335.9px;top:447.6px;transform:scaleX(0.858);">E</div>
  <div class="lab" style="left:372.0px;top:447.6px;transform:scaleX(1.062);">D</div>
  <div class="lab" style="left:97.5px;top:793.8px;transform:scaleX(0.932);">C</div>
  <div class="lab" style="left:136.9px;top:793.8px;transform:scaleX(1.042);">O</div>
  <div class="lab" style="left:181.1px;top:793.8px;transform:scaleX(1.042);">N</div>
  <div class="lab" style="left:225.5px;top:793.8px;transform:scaleX(0.969);">V</div>
  <div class="lab" style="left:264.7px;top:793.8px;transform:scaleX(0.867);">E</div>
  <div class="lab" style="left:300.9px;top:793.8px;transform:scaleX(0.923);">R</div>
  <div class="lab" style="left:340.3px;top:793.8px;transform:scaleX(0.876);">S</div>
  <div class="lab" style="left:375.6px;top:793.8px;transform:scaleX(1.000);">I</div>
  <div class="lab" style="left:396.7px;top:793.8px;transform:scaleX(1.027);">O</div>
  <div class="lab" style="left:441.4px;top:793.8px;transform:scaleX(1.067);">N</div>
  <div class="lab" style="left:98.3px;top:852.9px;transform:scaleX(0.908);">R</div>
  <div class="lab" style="left:137.3px;top:852.9px;transform:scaleX(1.007);">A</div>
  <div class="lab" style="left:175.6px;top:852.9px;transform:scaleX(0.916);">T</div>
  <div class="lab" style="left:210.5px;top:852.9px;transform:scaleX(0.867);">E</div>
  <!-- /STATS -->
</div>
<div style="position:absolute;left:1918px;top:0;width:2px;height:1080px;background:#cf4444;"></div>
<div style="position:absolute;left:1913px;top:0;width:7px;height:4px;background:#f03434;border-radius:0 0 0 3px;"></div>
<div style="position:absolute;left:1912px;top:1076px;width:8px;height:4px;background:#f03434;border-radius:3px 0 0 0;"></div>
</body>
</html>
